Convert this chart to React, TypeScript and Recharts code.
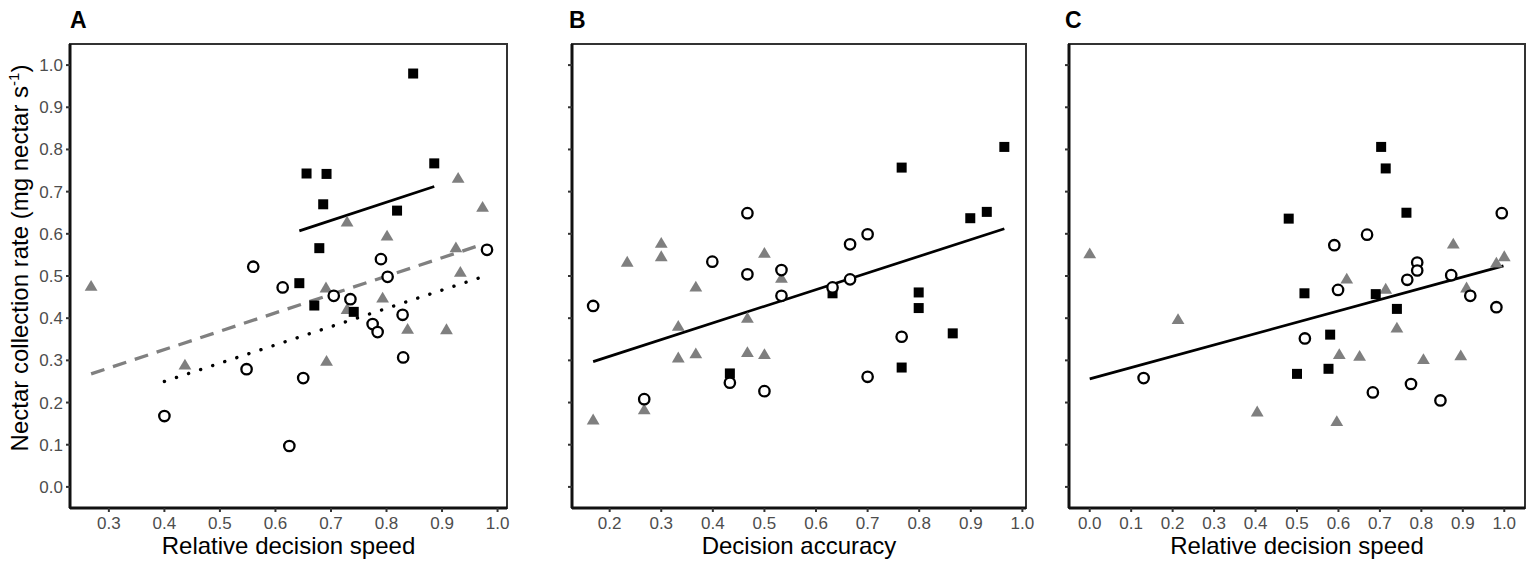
import { ScatterChart, Scatter, XAxis, YAxis, ReferenceLine, ReferenceArea } from 'recharts';

const FONT = '"Liberation Sans", Arial, Helvetica, sans-serif';
const GREY = '#7f7f7f';

// shared y axis (nectar collection rate)
const yTicks = [0, 0.1, 0.2, 0.3, 0.4, 0.5, 0.6, 0.7, 0.8, 0.9, 1.0];
const yDomain: [number, number] = [-0.05, 1.05];

// panel A: relative decision speed
const aTicks = [0.3, 0.4, 0.5, 0.6, 0.7, 0.8, 0.9, 1.0];
const aSquares = [
  [0.848, 0.98], [0.656, 0.743], [0.692, 0.742], [0.686, 0.67], [0.886, 0.767],
  [0.819, 0.655], [0.679, 0.566], [0.643, 0.483], [0.67, 0.43], [0.741, 0.415],
];
const aTriangles = [
  [0.268, 0.477], [0.729, 0.629], [0.801, 0.596], [0.929, 0.733], [0.973, 0.664],
  [0.925, 0.568], [0.933, 0.51], [0.691, 0.473], [0.793, 0.449], [0.729, 0.422],
  [0.838, 0.375], [0.908, 0.374], [0.692, 0.299], [0.437, 0.29],
];
const aCircles = [
  [0.56, 0.522], [0.613, 0.473], [0.79, 0.54], [0.802, 0.498], [0.981, 0.562],
  [0.705, 0.453], [0.735, 0.445], [0.775, 0.386], [0.784, 0.367], [0.829, 0.408],
  [0.83, 0.307], [0.548, 0.279], [0.65, 0.258], [0.4, 0.168], [0.625, 0.097],
];
const aFitSquares = [[0.643, 0.607], [0.886, 0.712]];
const aFitTriangles = [[0.268, 0.268], [0.973, 0.575]];
const aFitCircles = [[0.4, 0.25], [0.982, 0.502]];

// panel B: decision accuracy
const bTicks = [0.2, 0.3, 0.4, 0.5, 0.6, 0.7, 0.8, 0.9, 1.0];
const bSquares = [
  [0.965, 0.806], [0.766, 0.757], [0.899, 0.637], [0.931, 0.652], [0.632, 0.459],
  [0.799, 0.461], [0.799, 0.424], [0.865, 0.364], [0.766, 0.283], [0.433, 0.269],
];
const bCircles = [
  [0.467, 0.649], [0.7, 0.599], [0.666, 0.575], [0.399, 0.534], [0.467, 0.504],
  [0.533, 0.514], [0.666, 0.492], [0.632, 0.473], [0.533, 0.453], [0.168, 0.429],
  [0.766, 0.356], [0.7, 0.261], [0.433, 0.247], [0.5, 0.227], [0.267, 0.208],
];
const bTriangles = [
  [0.3, 0.579], [0.3, 0.547], [0.234, 0.534], [0.5, 0.555], [0.533, 0.496],
  [0.367, 0.475], [0.333, 0.382], [0.467, 0.401], [0.333, 0.307], [0.367, 0.317],
  [0.467, 0.32], [0.5, 0.315], [0.267, 0.184], [0.168, 0.16],
];
const bFit = [[0.168, 0.297], [0.965, 0.612]];

// panel C: relative decision speed
const cTicks = [0, 0.1, 0.2, 0.3, 0.4, 0.5, 0.6, 0.7, 0.8, 0.9, 1.0];
const cSquares = [
  [0.703, 0.806], [0.714, 0.755], [0.764, 0.65], [0.48, 0.636], [0.518, 0.459],
  [0.69, 0.457], [0.741, 0.422], [0.58, 0.361], [0.576, 0.28], [0.5, 0.268],
];
const cCircles = [
  [0.994, 0.649], [0.669, 0.598], [0.59, 0.573], [0.79, 0.532], [0.79, 0.513],
  [0.766, 0.491], [0.872, 0.502], [0.599, 0.467], [0.918, 0.453], [0.981, 0.426],
  [0.519, 0.352], [0.13, 0.258], [0.775, 0.244], [0.683, 0.224], [0.846, 0.205],
];
const cTriangles = [
  [0.0, 0.554], [0.877, 0.577], [1.0, 0.547], [0.981, 0.532], [0.62, 0.494],
  [0.714, 0.47], [0.909, 0.473], [0.213, 0.398], [0.741, 0.378], [0.602, 0.315],
  [0.651, 0.311], [0.805, 0.303], [0.895, 0.312], [0.404, 0.179], [0.596, 0.156],
];
const cFit = [[0.0, 0.256], [0.998, 0.524]];

const pts = (arr: number[][]) => arr.map(([x, y]) => ({ x, y }));
const fmt = (v: number) => v.toFixed(1);

const Square = (p: any) => <rect x={p.cx - 5} y={p.cy - 5} width={10} height={10} fill="#000" />;
const Circle = (p: any) => <circle cx={p.cx} cy={p.cy} r={5.2} fill="#fff" stroke="#000" strokeWidth={2.3} />;
const Triangle = (p: any) => (
  <polygon
    points={`${p.cx},${p.cy - 5.8} ${p.cx - 6.4},${p.cy + 5} ${p.cx + 6.4},${p.cy + 5}`}
    fill={GREY}
  />
);

const YTitle = (props: any) => {
  const vb = props.viewBox || { y: 44, height: 464 };
  const cy = vb.y + vb.height / 2 - 18;
  return (
    <text transform={`translate(28,${cy}) rotate(-90)`} textAnchor="middle" fontSize={24} fontFamily={FONT} fill="#000">
      Nectar collection rate (mg nectar s
      <tspan dy={-9} fontSize={15}>-1</tspan>
      <tspan dy={9}>)</tspan>
    </text>
  );
};

interface FitLine {
  pts: number[][];
  stroke: string;
  width: number;
  dash?: string;
  cap?: 'round' | 'butt';
}

interface PanelProps {
  left: number;
  width: number;
  top: number;
  marginLeft: number;
  yWidth: number;
  marginRight: number;
  xDomain: [number, number];
  xTicks: number[];
  xTitle: string;
  squares: number[][];
  circles: number[][];
  triangles: number[][];
  fits: FitLine[];
  yLabels: boolean;
}

function Panel(p: PanelProps) {
  return (
    <div style={{ position: 'absolute', left: p.left, top: 0 }}>
      <ScatterChart
        width={p.width}
        height={571}
        margin={{ top: p.top, right: p.marginRight, bottom: 3, left: p.marginLeft }}
      >
        <XAxis
          type="number"
          dataKey="x"
          domain={p.xDomain}
          ticks={p.xTicks}
          allowDataOverflow
          height={60}
          tickSize={4}
          tickMargin={5}
          tickFormatter={fmt}
          tick={{ fill: '#4d4d4d', fontSize: 17, fontFamily: FONT }}
          tickLine={{ stroke: '#333', strokeWidth: 2 }}
          axisLine={{ stroke: '#111', strokeWidth: 3 }}
          label={{ value: p.xTitle, position: 'insideBottom', offset: 14, fill: '#000', fontSize: 24, fontFamily: FONT }}
        />
        <YAxis
          type="number"
          dataKey="y"
          domain={yDomain}
          ticks={yTicks}
          allowDataOverflow
          width={p.yWidth}
          tickSize={4}
          tickMargin={3}
          tickFormatter={p.yLabels ? fmt : () => ''}
          tick={{ fill: '#4d4d4d', fontSize: 17, fontFamily: FONT }}
          tickLine={{ stroke: '#333', strokeWidth: 2 }}
          axisLine={{ stroke: '#111', strokeWidth: 3 }}
          label={p.yLabels ? YTitle : undefined}
        />
        <ReferenceArea
          x1={p.xDomain[0]}
          x2={p.xDomain[1]}
          y1={yDomain[0]}
          y2={yDomain[1]}
          fill="none"
          fillOpacity={0}
          stroke="#333"
          strokeWidth={2}
          ifOverflow="visible"
        />
        <Scatter data={pts(p.triangles)} shape={Triangle} isAnimationActive={false} />
        <Scatter data={pts(p.squares)} shape={Square} isAnimationActive={false} />
        <Scatter data={pts(p.circles)} shape={Circle} isAnimationActive={false} />
        {p.fits.map((f, i) => (
          <ReferenceLine
            key={i}
            segment={pts(f.pts)}
            stroke={f.stroke}
            strokeWidth={f.width}
            strokeDasharray={f.dash}
            strokeLinecap={f.cap}
            ifOverflow="visible"
          />
        ))}
      </ScatterChart>
    </div>
  );
}

const letterStyle = (left: number): React.CSSProperties => ({
  position: 'absolute',
  left,
  top: 9,
  fontFamily: FONT,
  fontWeight: 'bold',
  fontSize: 23,
  lineHeight: '23px',
  color: '#000',
});

export default function App() {
  return (
    <div style={{ position: 'absolute', left: 0, top: 0, width: 1535, height: 571, background: '#fff', overflow: 'hidden' }}>
      <Panel
        left={0}
        width={520}
        top={44}
        marginLeft={8}
        yWidth={62}
        marginRight={13}
        xDomain={[0.23, 1.017]}
        xTicks={aTicks}
        xTitle="Relative decision speed"
        squares={aSquares}
        circles={aCircles}
        triangles={aTriangles}
        yLabels
        fits={[
          { pts: aFitSquares, stroke: '#000', width: 2.7 },
          { pts: aFitTriangles, stroke: '#808080', width: 3.3, dash: '14 9' },
          { pts: aFitCircles, stroke: '#000', width: 3.4, dash: '0.1 12.6', cap: 'round' },
        ]}
      />
      <Panel
        left={520}
        width={515}
        top={44}
        marginLeft={42}
        yWidth={10}
        marginRight={9}
        xDomain={[0.127, 1.007]}
        xTicks={bTicks}
        xTitle="Decision accuracy"
        squares={bSquares}
        circles={bCircles}
        triangles={bTriangles}
        yLabels={false}
        fits={[{ pts: bFit, stroke: '#000', width: 2.7 }]}
      />
      <Panel
        left={1035}
        width={500}
        top={44}
        marginLeft={24}
        yWidth={10}
        marginRight={10}
        xDomain={[-0.05, 1.05]}
        xTicks={cTicks}
        xTitle="Relative decision speed"
        squares={cSquares}
        circles={cCircles}
        triangles={cTriangles}
        yLabels={false}
        fits={[{ pts: cFit, stroke: '#000', width: 2.7 }]}
      />
      <div style={letterStyle(70)}>A</div>
      <div style={letterStyle(569)}>B</div>
      <div style={letterStyle(1065)}>C</div>
    </div>
  );
}
